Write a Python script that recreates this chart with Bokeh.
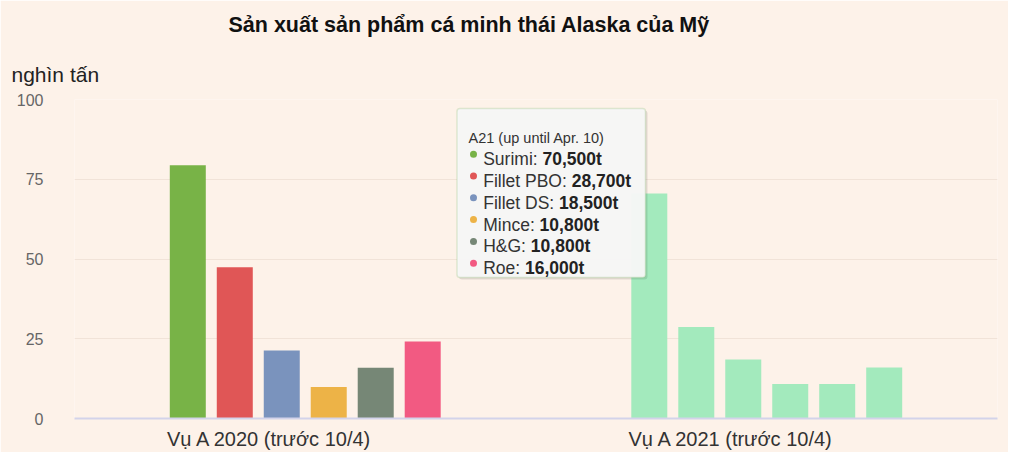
from bokeh.plotting import figure
from bokeh.models import (ColumnDataSource, Range1d, Label, BoxAnnotation, FixedTicker, Title)
from bokeh.transform import dodge
from bokeh.embed import file_html
from bokeh.resources import INLINE

# ---- data ----
groups = ["Vụ A 2020 (trước 10/4)", "Vụ A 2021 (trước 10/4)"]
products = ["Surimi", "Fillet PBO", "Fillet DS", "Mince", "H&G", "Roe"]
values_2020 = [79.4, 47.4, 21.3, 9.9, 15.9, 24.1]
values_2021 = [70.5, 28.7, 18.5, 10.8, 10.8, 16.0]
colors_2020 = ["#78b347", "#e05656", "#7a93bd", "#edb347", "#768776", "#f25a82"]
color_2021 = "#a3eabd"
tooltip_title = "A21 (up until Apr. 10)"
tooltip_values = ["70,500t", "28,700t", "18,500t", "10,800t", "10,800t", "16,000t"]
y_ticks = [0, 25, 50, 75, 100]
title_text = "Sản xuất sản phẩm cá minh thái Alaska của Mỹ"
unit_text = "nghìn tấn"

BG = "#fdf2e9"
FONT = "Liberation Sans"

# group slots: group i occupies [i, i+1] on the x scale
data = {"group": groups, "slot": [i + 0.5 for i in range(len(groups))]}
for i, prod in enumerate(products):
    data[prod] = [values_2020[i], values_2021[i]]
    data["color_" + prod] = [colors_2020[i], color_2021]
source = ColumnDataSource(data)

p = figure(width=1008, height=452, x_range=Range1d(0, len(groups)), y_range=Range1d(0, 100),
           title=title_text, output_backend="svg", toolbar_location=None,
           min_border_left=74, min_border_right=11, min_border_top=99, min_border_bottom=34)
p.background_fill_color = BG
p.border_fill_color = BG
p.outline_line_color = None

# main title (outer)
p.title.align = "left"
p.title.offset = 154
p.title.text_font = FONT
p.title.text_font_size = "21.5px"
p.title.text_font_style = "bold"
p.title.text_color = "#111111"
p.title.standoff = 19

# unit label (closest to the frame)
p.add_layout(Title(text=unit_text, align="left", offset=-63, text_font=FONT,
                   text_font_size="21px", text_font_style="normal", text_color="#222222",
                   standoff=28), "above")

pitch = 0.1018
for i, prod in enumerate(products):
    p.vbar(x=dodge("slot", (i - 2.5) * pitch), top=prod, width=0.078,
           source=source, fill_color="color_" + prod, line_color=None)

# category labels sit a little left of the group centres in the reference
shift = 0.077
lab_ticks = [i + 0.5 - shift for i in range(len(groups))]
p.xaxis.ticker = FixedTicker(ticks=lab_ticks)
p.xaxis.major_label_overrides = {t: g for t, g in zip(lab_ticks, groups)}
p.xaxis.axis_line_color = "#d3d3ea"
p.xaxis.axis_line_width = 2
p.xaxis.major_tick_line_color = None
p.xaxis.minor_tick_line_color = None
p.xaxis.major_label_text_font = FONT
p.xaxis.major_label_text_font_size = "20px"
p.xaxis.major_label_text_color = "#333333"
p.xaxis.major_label_standoff = 3

p.xgrid.visible = False
p.ygrid.grid_line_color = "#f1e3d8"
p.ygrid.grid_line_width = 1
p.yaxis.ticker = FixedTicker(ticks=y_ticks)
p.yaxis.axis_line_color = None
p.yaxis.major_tick_line_color = None
p.yaxis.minor_tick_line_color = None
p.yaxis.major_label_text_font = FONT
p.yaxis.major_label_text_font_size = "16px"
p.yaxis.major_label_text_color = "#666666"
p.yaxis.major_label_standoff = 25

# tooltip overlay (screen units relative to the frame)
p.add_layout(BoxAnnotation(left=384.5, right=573, top=308, bottom=139,
                           left_units="screen", right_units="screen", top_units="screen", bottom_units="screen",
                           fill_color="#000000", fill_alpha=0.10, line_color=None, border_radius=3))
p.add_layout(BoxAnnotation(left=382.5, right=571, top=310, bottom=141,
                           left_units="screen", right_units="screen", top_units="screen", bottom_units="screen",
                           fill_color="#f7f7f7", fill_alpha=0.96, line_color="#98c285", line_width=1.5,
                           border_radius=3))
p.add_layout(Label(x=394, y=281, x_units="screen", y_units="screen", text=tooltip_title,
                   text_font=FONT, text_font_size="14.5px", text_color="#333333",
                   text_baseline="alphabetic"))

# approximate Arial/Liberation Sans advance widths (per 1000 em)
W = {"S": 667, "u": 556, "r": 333, "i": 222, "m": 833, ":": 278, " ": 278, "F": 611, "l": 222,
     "e": 556, "t": 278, "P": 667, "B": 667, "O": 778, "D": 722, "M": 833, "n": 556, "c": 500,
     "H": 722, "&": 667, "G": 778, "R": 722, "o": 556}
fs = 17.5
row_x = 408.7
for i, prod in enumerate(products):
    base = 259.3 - i * 21.8
    p.add_layout(BoxAnnotation(left=395.5, right=402.5, bottom=base + 1.5, top=base + 8.5,
                               left_units="screen", right_units="screen", top_units="screen",
                               bottom_units="screen", fill_color=colors_2020[i], fill_alpha=1,
                               line_color=None, border_radius=4))
    name = prod + ": "
    p.add_layout(Label(x=row_x, y=base, x_units="screen", y_units="screen", text=name,
                       text_font=FONT, text_font_size="17.5px", text_color="#333333",
                       text_baseline="alphabetic"))
    w = sum(W.get(ch, 556) for ch in name) * fs / 1000.0
    p.add_layout(Label(x=row_x + w, y=base, x_units="screen", y_units="screen", text=tooltip_values[i],
                       text_font=FONT, text_font_size="17.5px", text_font_style="bold",
                       text_color="#222222", text_baseline="alphabetic"))

open("out.html", "w").write(file_html(p, INLINE))
